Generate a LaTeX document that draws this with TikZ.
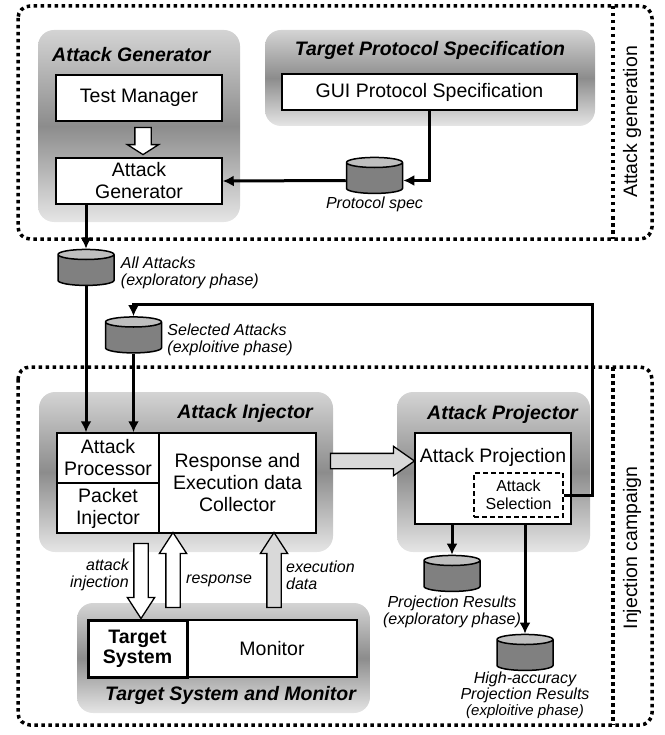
\documentclass[tikz,border=0pt]{standalone}
\usepackage{fontspec}
\setmainfont{Liberation Sans}
\usetikzlibrary{shapes.geometric, shapes.arrows, arrows.meta, positioning, calc}
\tikzset{
    group/.style={rectangle, rounded corners=16pt, top color=black!17, bottom color=black!10, middle color=black!45, inner sep=0pt},
    block/.style={rectangle, draw=black, fill=white, line width=1.5pt, text centered, align=center, inner sep=0pt, font=\fontsize{19.5}{22}\selectfont},
    title/.style={font=\fontsize{19.5}{22}\selectfont\bfseries\itshape, inner sep=0pt},
    note/.style={font=\fontsize{16}{17}\selectfont\itshape, align=center, inner sep=0pt},
    store/.style={cylinder, shape border rotate=90, aspect=0.36, draw=black, line width=1.5pt, cylinder uses custom fill, cylinder body fill=black!50, cylinder end fill=black!25, minimum width=56pt, minimum height=36pt, inner xsep=14pt, inner ysep=0pt},
    arrow/.style={line width=3pt, -{Latex[length=11pt,width=11pt]}},
    hollow/.style={single arrow, draw=black, fill=white, line width=1.3pt, inner xsep=0pt, inner ysep=6.5pt, single arrow head extend=6.5pt, single arrow tip angle=66},
    campaign/.style={draw=black, line width=3.5pt, dash pattern=on 3.5pt off 3.5pt, rounded corners=12pt},
    phase/.style={font=\fontsize{19.5}{22}\selectfont, rotate=90, inner sep=0pt}
}

\begin{document}
\begin{tikzpicture}[x=1pt, y=-1pt]
    \useasboundingbox (0,0) rectangle (664,735);
    % Phases
    \draw[campaign] (18,6) rectangle (652,239);
    \draw[campaign] (613,6) -- (613,239);
    \node[phase] (gen) at (632,122) {Attack generation};
    \draw[campaign] (18,367) rectangle (652,725);
    \draw[campaign] (613,367) -- (613,725);
    \node[phase] (camp) at (632,548) {Injection campaign};
    % Groups
    \node[group, minimum width=202pt, minimum height=192pt] (gengroup) at (139,126) {};
    \node[title, anchor=west] (gentitle) at (52,55) {Attack Generator};
    \node[group, minimum width=330pt, minimum height=96pt] (specgroup) at (430,78) {};
    \node[title] (spectitle) at (430,50) {Target Protocol Specification};
    \node[group, minimum width=294pt, minimum height=160pt] (injgroup) at (186,472) {};
    \node[title, anchor=east] (injtitle) at (313,413) {Attack Injector};
    \node[group, minimum width=193pt, minimum height=160pt] (projgroup) at (493.5,472) {};
    \node[title, anchor=east] (projtitle) at (578,414) {Attack Projector};
    \node[group, minimum width=293pt, minimum height=110pt] (tsgroup) at (223.5,658) {};
    \node[title, anchor=west] (tstitle) at (105,695) {Target System and Monitor};
    % Blocks
    \node[block, minimum width=166pt, minimum height=46pt] (tm) at (139,98) {Test Manager};
    \node[block, minimum width=166pt, minimum height=46pt] (ag) at (139,181) {Attack\\Generator};
    \node[block, minimum width=295pt, minimum height=36pt] (gui) at (429.5,92) {GUI Protocol Specification};
    \node[block, minimum width=102pt, minimum height=50pt] (proc) at (108,458) {Attack\\Processor};
    \node[block, minimum width=102pt, minimum height=50pt] (pinj) at (108,508) {Packet\\Injector};
    \node[block, minimum width=157pt, minimum height=100pt] (coll) at (237.5,483) {Response and\\Execution data\\Collector};
    \node[block, minimum width=156pt, minimum height=91pt] (proj) at (493,478.5) {};
    \node[font=\fontsize{19.5}{22}\selectfont, inner sep=0pt] (projtext) at ($(proj.north)+(0,25)$) {Attack Projection};
    \node[block, dash pattern=on 5pt off 3pt, line width=1.2pt, minimum width=89pt, minimum height=44pt, font=\fontsize{16}{18}\selectfont] (sel) at (518.5,495) {Attack\\Selection};
    \node[block, minimum width=170pt, minimum height=57pt] (mon) at (272,648.5) {Monitor};
    \node[block, line width=3pt, minimum width=99pt, minimum height=57pt, font=\fontsize{19.5}{20}\selectfont\bfseries] (ts) at (137.5,648.5) {Target\\System};
    % Stores
    \node[store] (pspec) at (374.5,180.5) {};
    \node[note, below=3pt of pspec] (pspeclbl) {Protocol spec};
    \node[store] (allatt) at (86,272.5) {};
    \node[note, right=6pt of allatt, align=left] (allattlbl) {All Attacks\\(exploratory phase)};
    \node[store] (selatt) at (133.5,340) {};
    \node[note, right=5pt of selatt, align=left] (selattlbl) {Selected Attacks\\(exploitive phase)};
    \node[store] (projres) at (452,578.5) {};
    \node[note, below=4pt of projres] (projreslbl) {Projection Results\\(exploratory phase)};
    \node[store] (hares) at (525,657.5) {};
    \node[note, below=1pt of hares, font=\fontsize{16}{16}\selectfont\itshape] (hareslbl) {High-accuracy\\Projection Results\\{\fontsize{15}{14}\selectfont(exploitive phase)}};
    % Arrows
    \draw[arrow] (pspec.west) -- (ag.east);
    \draw[arrow] (gui.south) |- (pspec.east);
    \draw[arrow] (allatt.north |- ag.south) -- (allatt.north);
    \draw[arrow] (allatt.south) -- (allatt.south |- proc.north);
    \draw[arrow] (selatt.south) -- (selatt.south |- proc.north);
    \coordinate (loop) at (592,304);
    \draw[arrow] (sel.east) -| (loop) -| (selatt.north);
    \draw[arrow] (projres.north |- proj.south) -- (projres.north);
    \draw[arrow] (hares.north |- proj.south) -- (hares.north);
    % Block arrows
    \node[hollow, single arrow tip angle=115, inner ysep=7.5pt, single arrow head extend=7.5pt, minimum height=27pt, rotate=-90] (genarr) at (143,138.5) {};
    \node[hollow, minimum height=75pt, rotate=-90] (injarr) at (141,575.5) {};
    \node[hollow, minimum height=75pt, rotate=90] (resparr) at (173,575.5) {};
    \node[hollow, fill=black!15, minimum height=75pt, rotate=90] (execarr) at (274,575.5) {};
    \node[hollow, fill=black!15, single arrow tip angle=70, inner ysep=7pt, single arrow head extend=7pt, minimum height=84pt] (projarr) at (367,461) {};
    \node[note, anchor=east, align=right] (injlbl) at (129,575) {attack\\injection};
    \node[note, anchor=west] (resplbl) at (186,581) {response};
    \node[note, anchor=west, align=left] (execlbl) at (286,575) {execution\\data};
\end{tikzpicture}
\end{document}
